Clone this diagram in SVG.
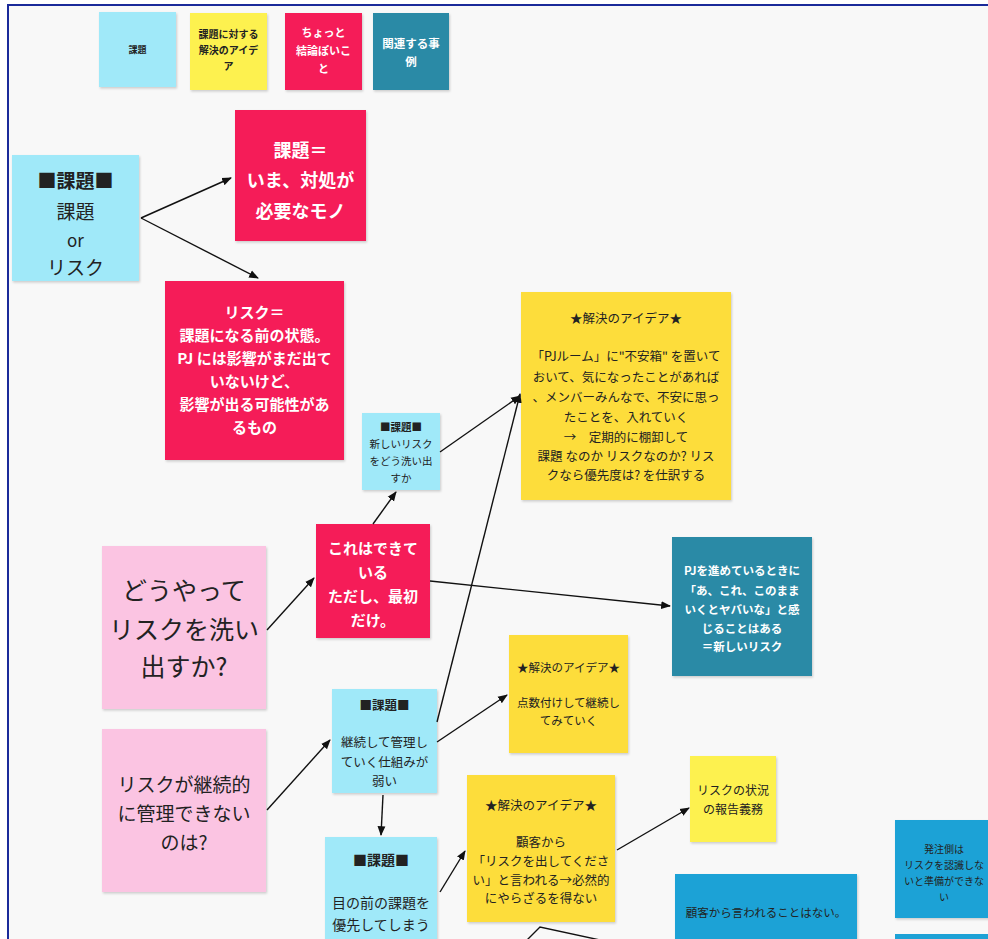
<svg xmlns="http://www.w3.org/2000/svg" width="988" height="939" viewBox="0 0 988 939">
<style>
text{font-family:"Noto Sans CJK JP","Noto Sans",sans-serif;text-anchor:middle}
.cy{fill:#a0e9f9}.ye{fill:#fddd3a}.yl{fill:#fdf150}.rd{fill:#f51c58}.tl{fill:#2a8aa6}.pk{fill:#fbc4e2}.bl{fill:#1ea2d6}
.dk{fill:#222}.wh{fill:#fff;font-weight:bold}
.cn{stroke:#111;stroke-width:1.4;fill:none}
</style>
<defs>
<marker id="ah" viewBox="0 0 10 10" refX="9" refY="5" markerWidth="7" markerHeight="7" orient="auto-start-reverse"><path d="M0,1 L10,5 L0,9 z" fill="#111"/></marker>
<filter id="sh" x="-5%" y="-5%" width="115%" height="115%"><feDropShadow dx="1" dy="1.5" stdDeviation="1.2" flood-opacity="0.18"/></filter>
</defs>
<rect width="988" height="939" fill="#fff"/>
<rect x="8" y="5" width="990" height="950" fill="#f8f8f8" stroke="#1a2a9a" stroke-width="2"/>

<g id="legend-kadai"><rect class="cy" x="99" y="12" width="77" height="75" filter="url(#sh)"/><text class="dk" x="137.5" y="53" font-size="9" font-weight="bold">課題</text></g>
<g id="legend-idea"><rect class="yl" x="190" y="13" width="77" height="77" filter="url(#sh)"/><text class="dk" font-size="10" font-weight="bold"><tspan x="228.5" y="38">課題に対する</tspan><tspan x="228.5" y="54">解決のアイデ</tspan><tspan x="228.5" y="70">ア</tspan></text></g>
<g id="legend-conclusion"><rect class="rd" x="285" y="13" width="77" height="77" filter="url(#sh)"/><text class="wh" font-size="11"><tspan x="323.5" y="37">ちょっと</tspan><tspan x="323.5" y="55">結論ぽいこ</tspan><tspan x="323.5" y="73">と</tspan></text></g>
<g id="legend-case"><rect class="tl" x="373" y="13" width="76" height="77" filter="url(#sh)"/><text class="wh" font-size="11.5"><tspan x="411" y="48">関連する事</tspan><tspan x="411" y="66">例</tspan></text></g>

<g id="n-main"><rect class="cy" x="12" y="155" width="127" height="126" filter="url(#sh)"/><text class="dk" font-size="19"><tspan x="75.5" y="188" font-weight="bold">■課題■</tspan><tspan x="75.5" y="219">課題</tspan><tspan x="75.5" y="247" font-size="17">or</tspan><tspan x="75.5" y="275">リスク</tspan></text></g>
<g id="n-kadai-def"><rect class="rd" x="235" y="110" width="131" height="131" filter="url(#sh)"/><text class="wh" font-size="18"><tspan x="300.5" y="157">課題＝</tspan><tspan x="300.5" y="187">いま、対処が</tspan><tspan x="300.5" y="218">必要なモノ</tspan></text></g>
<g id="n-risk-def"><rect class="rd" x="165" y="281" width="179" height="179" filter="url(#sh)"/><text class="wh" font-size="15"><tspan x="254.5" y="318">リスク＝</tspan><tspan x="254.5" y="341">課題になる前の状態。</tspan><tspan x="254.5" y="364">PJ には影響がまだ出て</tspan><tspan x="254.5" y="387">いないけど、</tspan><tspan x="254.5" y="410">影響が出る可能性があ</tspan><tspan x="254.5" y="433">るもの</tspan></text></g>
<g id="n-idea1"><rect class="ye" x="521" y="292" width="210" height="208" filter="url(#sh)"/><text class="dk" font-size="12.5"><tspan x="626" y="323">★解決のアイデア★</tspan><tspan x="626" y="361">「PJルーム」に"不安箱" を置いて</tspan><tspan x="626" y="382">おいて、気になったことがあれば</tspan><tspan x="626" y="402">、メンバーみんなで、不安に思っ</tspan><tspan x="626" y="422">たことを、入れていく</tspan><tspan x="626" y="442">→　定期的に棚卸して</tspan><tspan x="626" y="461">課題 なのか リスクなのか?  リス</tspan><tspan x="626" y="480">クなら優先度は?  を仕訳する</tspan></text></g>
<g id="n-new-risk"><rect class="cy" x="362" y="413" width="78" height="77" filter="url(#sh)"/><text class="dk" font-size="10.5"><tspan x="401" y="431" font-weight="bold">■課題■</tspan><tspan x="401" y="448">新しいリスク</tspan><tspan x="401" y="465">をどう洗い出</tspan><tspan x="401" y="482">すか</tspan></text></g>
<g id="n-dekiteiru"><rect class="rd" x="316" y="524" width="114" height="114" filter="url(#sh)"/><text class="wh" font-size="15"><tspan x="373" y="554">これはできて</tspan><tspan x="373" y="578">いる</tspan><tspan x="373" y="602">ただし、最初</tspan><tspan x="373" y="626">だけ。</tspan></text></g>
<g id="n-case"><rect class="tl" x="672" y="537" width="140" height="139" filter="url(#sh)"/><text class="wh" font-size="11.5"><tspan x="742" y="575">PJを進めているときに</tspan><tspan x="742" y="595">「あ、これ、このまま</tspan><tspan x="742" y="614">いくとヤバいな」と感</tspan><tspan x="742" y="633">じることはある</tspan><tspan x="742" y="651">＝新しいリスク</tspan></text></g>
<g id="n-how"><rect class="pk" x="102" y="546" width="164" height="163" filter="url(#sh)"/><text class="dk" font-size="25"><tspan x="184" y="600">どうやって</tspan><tspan x="184" y="639">リスクを洗い</tspan><tspan x="184" y="676">出すか?</tspan></text></g>
<g id="n-why"><rect class="pk" x="102" y="729" width="164" height="163" filter="url(#sh)"/><text class="dk" font-size="19"><tspan x="184" y="792">リスクが継続的</tspan><tspan x="184" y="821">に管理できない</tspan><tspan x="184" y="850">のは?</tspan></text></g>
<g id="n-idea2"><rect class="ye" x="509" y="635" width="119" height="118" filter="url(#sh)"/><text class="dk" font-size="11.5"><tspan x="568.5" y="672">★解決のアイデア★</tspan><tspan x="568.5" y="707">点数付けして継続し</tspan><tspan x="568.5" y="725">てみていく</tspan></text></g>
<g id="n-keizoku"><rect class="cy" x="332" y="689" width="105" height="104" filter="url(#sh)"/><text class="dk" font-size="12.5"><tspan x="384.5" y="710" font-weight="bold">■課題■</tspan><tspan x="384.5" y="747">継続して管理し</tspan><tspan x="384.5" y="767">ていく仕組みが</tspan><tspan x="384.5" y="786">弱い</tspan></text></g>
<g id="n-menomae"><rect class="cy" x="325" y="837" width="112" height="112" filter="url(#sh)"/><text class="dk" font-size="14"><tspan x="381" y="865" font-weight="bold">■課題■</tspan><tspan x="381" y="908">目の前の課題を</tspan><tspan x="381" y="930">優先してしまう</tspan></text></g>
<g id="n-idea3"><rect class="ye" x="467" y="775" width="148" height="147" filter="url(#sh)"/><text class="dk" font-size="12.5"><tspan x="541" y="810">★解決のアイデア★</tspan><tspan x="541" y="847">顧客から</tspan><tspan x="541" y="866">「リスクを出してくださ</tspan><tspan x="541" y="885">い」と言われる→必然的</tspan><tspan x="541" y="903">にやらざるを得ない</tspan></text></g>
<g id="n-report"><rect class="yl" x="690" y="756" width="86" height="86" filter="url(#sh)"/><text class="dk" font-size="12"><tspan x="733" y="795">リスクの状況</tspan><tspan x="733" y="814">の報告義務</tspan></text></g>
<g id="n-no-request"><rect class="bl" x="675" y="874" width="182" height="80" filter="url(#sh)"/><text class="dk" x="766" y="917" font-size="11.5">顧客から言われることはない。</text></g>
<g id="n-orderer"><rect class="bl" x="895" y="820" width="100" height="98" filter="url(#sh)"/><text class="dk" font-size="10"><tspan x="944" y="853">発注側は</tspan><tspan x="944" y="869">リスクを認識しな</tspan><tspan x="944" y="885">いと準備ができな</tspan><tspan x="944" y="901">い</tspan></text></g>
<g id="n-more"><rect class="bl" x="895" y="934" width="100" height="20"/></g>

<g id="connectors">
<line class="cn" x1="141" y1="218" x2="231" y2="178" marker-end="url(#ah)"/>
<line class="cn" x1="141" y1="218" x2="258" y2="278" marker-end="url(#ah)"/>
<line class="cn" x1="267" y1="630" x2="314" y2="578" marker-end="url(#ah)"/>
<line class="cn" x1="373" y1="524" x2="396" y2="492" marker-end="url(#ah)"/>
<line class="cn" x1="440" y1="452" x2="520" y2="396" marker-end="url(#ah)"/>
<line class="cn" x1="430" y1="581" x2="670" y2="606" marker-end="url(#ah)"/>
<line class="cn" x1="267" y1="810" x2="330" y2="740" marker-end="url(#ah)"/>
<line class="cn" x1="437" y1="742" x2="507" y2="695" marker-end="url(#ah)"/>
<line class="cn" x1="437" y1="722" x2="520" y2="394" marker-end="url(#ah)"/>
<line class="cn" x1="383" y1="795" x2="381" y2="835" marker-end="url(#ah)"/>
<line class="cn" x1="440" y1="892" x2="465" y2="851" marker-end="url(#ah)"/>
<line class="cn" x1="617" y1="850" x2="689" y2="808" marker-end="url(#ah)"/>
<polyline class="cn" points="527,940 540,927 600,940"/>
</g>
</svg>
